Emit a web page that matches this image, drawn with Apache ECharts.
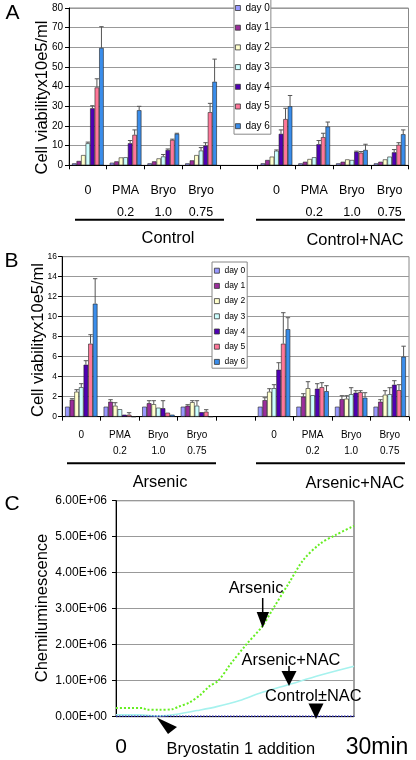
<!DOCTYPE html>
<html><head><meta charset="utf-8">
<script src="https://cdn.jsdelivr.net/npm/echarts@6/dist/echarts.min.js"></script>
<style>html,body{margin:0;padding:0;background:#fff}#c{width:416px;height:760px}</style>
</head><body><div id="c"></div>
<script>
// ---------- data ----------
const categories = ['0', 'PMA\n0.2', 'Bryo\n1.0', 'Bryo\n0.75', '', '0', 'PMA\n0.2', 'Bryo\n1.0', 'Bryo\n0.75'];
const days = ['day 0', 'day 1', 'day 2', 'day 3', 'day 4', 'day 5', 'day 6'];
const dayColors = ['#9999FF', '#9B2D9B', '#FFFFCC', '#CCFFFF', '#5000B4', '#FF7799', '#3A8DEB'];

// Panel A: Control / Control+NAC (x10e5/ml)
const aDay0 = [1.0, 1.3, 1.0, 1.0, null, 1.0, 1.0, 1.0, 1.0];
const aDay1 = [2.2, 2.0, 2.0, 2.5, null, 2.7, 1.8, 1.8, 1.8];
const aDay2 = [5.2, 4.0, 3.5, 5.2, null, 4.4, 3.2, 3.0, 3.0];
const aDay3 = [11.2, 4.1, 4.5, 7.5, null, 7.4, 4.1, 2.7, 4.4];
const aDay4 = [29.0, 11.2, 7.8, 10.0, null, 16.0, 10.7, 6.9, 6.6];
const aDay5 = [39.6, 15.5, 12.9, 27.0, null, 23.5, 14.3, 6.4, 10.4];
const aDay6 = [59.7, 28.0, 16.0, 42.5, null, 30.0, 19.7, 7.8, 15.8];
const aErr3 = [11.8, null, 5.5, 9.0, null, 7.8, null, null, null];
const aErr4 = [30.3, 12.6, 8.3, 11.5, null, 18.0, 12.6, 7.2, 8.0];
const aErr5 = [44.0, 18.0, 13.3, 31.5, null, 29.0, 16.3, 7.0, 11.5];
const aErr6 = [70.5, 30.0, 16.3, 54.0, null, 35.5, 22.0, 10.7, 18.0];

// Panel B: Arsenic / Arsenic+NAC
const bDay0 = [1.0, 1.0, 1.0, 1.0, null, 1.0, 1.0, 1.0, 1.0];
const bDay1 = [1.7, 1.5, 1.35, 1.1, null, 1.65, 2.0, 1.75, 1.5];
const bDay2 = [2.5, 1.1, 1.25, 1.45, null, 2.5, 2.85, 1.8, 2.2];
const bDay3 = [2.95, 0.75, 0.9, 1.1, null, 2.85, 2.15, 2.25, 2.25];
const bDay4 = [5.2, 0.2, 0.85, 0.45, null, 4.7, 2.8, 2.4, 3.2];
const bDay5 = [7.3, 0.2, 0.4, 0.5, null, 7.3, 2.95, 2.45, 2.65];
const bDay6 = [11.3, 0, 0.2, 0, null, 8.75, 2.55, 1.9, 6.0];
const bErr1 = [1.8, 1.7, 1.6, 1.2, null, 1.9, 2.3, 2.1, 1.7];
const bErr2 = [2.7, 1.4, 1.6, 1.6, null, 2.8, 3.5, 2.1, 2.6];
const bErr3 = [3.3, null, null, 1.6, null, 3.2, null, 2.9, 2.9];
const bErr4 = [5.6, null, 1.6, null, null, 5.4, 3.3, 2.6, 3.6];
const bErr5 = [8.2, 0.4, null, 0.7, null, 10.4, 3.4, 2.6, 3.2];
const bErr6 = [13.8, null, null, null, null, 9.9, 3.1, 2.4, 7.05];

// Panel C: chemiluminescence vs minutes
const arsenicT = [0, 3.4, 3.9, 5.5, 7.1, 7.8, 9.3, 10.6, 11.8, 12.9, 14.4, 16.4, 18.4, 19.8, 21.9, 23.6, 25.7, 27.7, 30];
const arsenicV = [0.24e6, 0.24e6, 0.19e6, 0.19e6, 0.21e6, 0.27e6, 0.4e6, 0.6e6, 0.85e6, 1.0e6, 1.45e6, 2.0e6, 2.5e6, 3.0e6, 3.75e6, 4.35e6, 4.8e6, 5.05e6, 5.3e6];
const arsNacT = [0, 3.0, 5.5, 7.7, 10.2, 12.7, 15.6, 18.1, 21.9, 25.7, 30];
const arsNacV = [0.05e6, 0.05e6, 0.02e6, 0.07e6, 0.17e6, 0.28e6, 0.45e6, 0.65e6, 0.9e6, 1.15e6, 1.4e6];
const ctrlT = [0, 30];
const ctrlV = [0.01e6, 0.01e6];
const cTickLabels = ['0.00E+00', '1.00E+06', '2.00E+06', '3.00E+06', '4.00E+06', '5.00E+06', '6.00E+06'];

// ---------- build ----------
const aDays = [aDay0, aDay1, aDay2, aDay3, aDay4, aDay5, aDay6];
const aErrs = [null, null, null, aErr3, aErr4, aErr5, aErr6];
const bDays = [bDay0, bDay1, bDay2, bDay3, bDay4, bDay5, bDay6];
const bErrs = [null, bErr1, bErr2, bErr3, bErr4, bErr5, bErr6];

const NARROW = '"Liberation Sans Narrow","Arial Narrow","Liberation Sans",Arial,sans-serif';
const SANS = '"Liberation Sans",Arial,sans-serif';
const CAT_GAP = 0.16;

function errRender(dayIdx) {
  return function (params, api) {
    const cat = api.value(0), v = api.value(1), e = api.value(2);
    const p0 = api.coord([cat, v]);
    const p1 = api.coord([cat, e]);
    const band = api.size([1, 0])[0];
    const grp = band * (1 - CAT_GAP);
    const w = grp / 7;
    const x = p0[0] - grp / 2 + (dayIdx + 0.5) * w;
    const st = { stroke: '#555', lineWidth: 1 };
    return { type: 'group', children: [
      { type: 'line', shape: { x1: x, y1: p0[1], x2: x, y2: p1[1] }, style: st },
      { type: 'line', shape: { x1: x - 2.2, y1: p1[1], x2: x + 2.2, y2: p1[1] }, style: st }
    ]};
  };
}

const series = [];
function addBars(vals, errs, axisIdx) {
  vals.forEach((d, i) => {
    series.push({
      name: days[i], type: 'bar', xAxisIndex: axisIdx, yAxisIndex: axisIdx,
      data: d, barGap: '0%', barCategoryGap: (CAT_GAP * 100) + '%',
      itemStyle: { color: dayColors[i], borderColor: '#222', borderWidth: 0.6 },
      emphasis: { disabled: true }
    });
    if (errs[i]) {
      const ed = [];
      errs[i].forEach((e, k) => { if (e != null && d[k] != null) ed.push([k, d[k], e]); });
      series.push({
        name: 'err' + axisIdx + '_' + i, type: 'custom', xAxisIndex: axisIdx, yAxisIndex: axisIdx,
        renderItem: errRender(i), data: ed, encode: { x: 0, y: 1 }, z: 5, silent: true
      });
    }
  });
}
addBars(aDays, aErrs, 0);
addBars(bDays, bErrs, 1);

function zip(t, v) { return t.map((x, i) => [x, v[i]]); }
series.push({ name: 'Arsenic', type: 'line', xAxisIndex: 2, yAxisIndex: 2, data: zip(arsenicT, arsenicV),
  showSymbol: false, smooth: 0.3, lineStyle: { color: '#66EE22', width: 2, type: 'dotted' }, z: 4 });
series.push({ name: 'Arsenic+NAC', type: 'line', xAxisIndex: 2, yAxisIndex: 2, data: zip(arsNacT, arsNacV),
  showSymbol: false, smooth: 0.3, lineStyle: { color: '#A6F2EE', width: 1.6 }, z: 3 });
series.push({ name: 'Control±NAC', type: 'line', xAxisIndex: 2, yAxisIndex: 2, data: zip(ctrlT, ctrlV),
  showSymbol: false, lineStyle: { color: '#3030B0', width: 1.5, type: 'dotted' }, z: 5 });

function catX(idx, labelSize, lh, margin, fam) {
  return {
    type: 'category', gridIndex: idx, data: categories,
    axisLine: { lineStyle: { color: '#000', width: 1 } },
    axisTick: { show: true, length: 4, lineStyle: { color: '#000' } },
    axisLabel: { interval: 0, color: '#000', fontSize: labelSize, lineHeight: lh, margin: margin, fontFamily: fam }
  };
}
function valY(idx, max, interval, labelSize, margin, fam, fmt) {
  return {
    type: 'value', gridIndex: idx, min: 0, max: max, interval: interval,
    axisLine: { show: true, lineStyle: { color: '#000' } },
    axisTick: { show: true, length: 4, lineStyle: { color: '#000' } },
    splitLine: { show: true, lineStyle: { color: '#999', width: 1 } },
    axisLabel: { color: '#000', fontSize: labelSize, margin: margin, fontFamily: fam, formatter: fmt }
  };
}

const legendCommon = {
  data: days, orient: 'vertical', icon: 'rect', selectedMode: false,
  backgroundColor: '#fff', borderColor: '#888', borderWidth: 1,
  itemStyle: { borderColor: '#333', borderWidth: 0.8 }
};

function txt(text, x, y, size, opts) {
  opts = opts || {};
  return { type: 'text', x: x, y: y, rotation: opts.rot || 0, z: 100,
    style: { text: text, fontSize: size, fontFamily: opts.fam || SANS, fill: '#000',
      textAlign: 'center', textVerticalAlign: 'middle' } };
}
function hline(x1, x2, y, w) {
  return { type: 'line', z: 100, shape: { x1: x1, y1: y, x2: x2, y2: y }, style: { stroke: '#000', lineWidth: w } };
}
function vline(x, y1, y2, w) {
  return { type: 'line', z: 100, shape: { x1: x, y1: y1, x2: x, y2: y2 }, style: { stroke: '#000', lineWidth: w } };
}
function tri(pts) {
  return { type: 'polygon', z: 100, shape: { points: pts }, style: { fill: '#000' } };
}

const R = Math.PI / 2;
const option = {
  animation: false,
  backgroundColor: '#fff',
  grid: [
    { left: 69, top: 8, width: 339.5, height: 157.3, show: true, borderColor: '#888', borderWidth: 1 },
    { left: 62, top: 256.7, width: 347, height: 160, show: true, borderColor: '#888', borderWidth: 1 },
    { left: 116, top: 500.7, width: 238, height: 216, show: true, borderColor: '#444', borderWidth: 1 }
  ],
  xAxis: [
    catX(0, 12.5, 22, 14, NARROW),
    catX(1, 10, 15.7, 11, SANS),
    { type: 'value', gridIndex: 2, min: 0, max: 30, axisLine: { show: true, lineStyle: { color: '#000' } },
      axisTick: { show: false }, axisLabel: { show: false }, splitLine: { show: false } }
  ],
  yAxis: [
    valY(0, 80, 10, 10, 6, NARROW),
    valY(1, 16, 2, 8.5, 5, SANS),
    valY(2, 6e6, 1e6, 12, 9, SANS, v => cTickLabels[Math.round(v / 1e6)])
  ],
  legend: [
    Object.assign({}, legendCommon, { left: 234, top: -3, padding: [5, 1, 2, 1], itemWidth: 5, itemHeight: 5, itemGap: 7.7,
      textStyle: { fontSize: 10, lineHeight: 12, fontFamily: NARROW, color: '#000' } }),
    Object.assign({}, legendCommon, { left: 212, top: 262, padding: [3.7, 2, 1.3, 2], itemWidth: 5, itemHeight: 5, itemGap: 5.2,
      textStyle: { fontSize: 8.5, lineHeight: 10, fontFamily: SANS, color: '#000' } })
  ],
  series: series,
  graphic: [
    txt('A', 12.5, 13, 21), txt('B', 11.5, 261, 21), txt('C', 12, 504, 21),
    txt('Cell viabilityx10e5/ml', 42, 97.5, 16.5, { rot: R }),
    txt('Cell viabilityx10e5/ml', 38, 340, 16.5, { rot: R }),
    txt('Chemiluminescence', 42.7, 608, 16.5, { rot: R }),
    hline(75, 224, 219.7, 2), hline(256, 405, 219.7, 2),
    txt('Control', 168, 238, 16.4), txt('Control+NAC', 355, 240, 16.4),
    hline(67, 216, 463.3, 2), hline(256, 405, 463.3, 2),
    txt('Arsenic', 160, 482.5, 16.4), txt('Arsenic+NAC', 355, 483, 16.4),
    txt('Arsenic', 256, 588, 16.4),
    vline(262.7, 598, 613, 1.5), tri([[256.7, 612], [269, 612], [262.7, 628]]),
    txt('Arsenic+NAC', 291, 660, 16.4),
    vline(289, 666, 672, 1.5), tri([[281.5, 671], [296.5, 671], [289, 686]]),
    txt('Control±NAC', 313.3, 696.5, 16.4),
    tri([[308.5, 703.5], [323.5, 703.5], [316, 719]]),
    tri([[156.7, 717.5], [177, 727], [168, 734]]),
    txt('0', 121, 747.5, 21), txt('30min', 377, 747.5, 23), txt('Bryostatin 1 addition', 240.8, 749, 16.4)
  ]
};
const chart = echarts.init(document.getElementById('c'), null, { renderer: 'canvas' });
chart.setOption(option);
</script>
</body></html>
